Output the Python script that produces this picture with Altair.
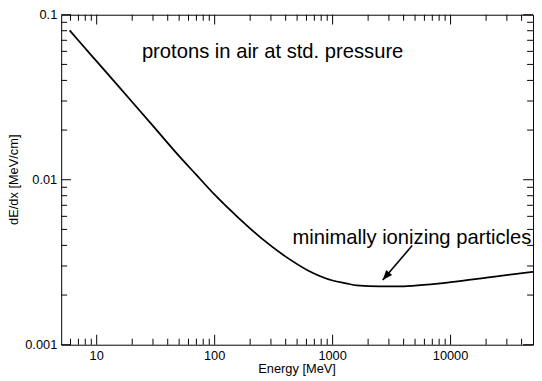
import altair as alt
import pandas as pd

# curve values
energy = [5.9, 7, 10, 20, 30, 50, 70, 100, 160, 250, 400, 630, 1000, 1300,
          1600, 2500, 4000, 6300, 10000, 22000, 50000]
dedx = [0.0804, 0.0698, 0.0521, 0.0296, 0.0212, 0.0139, 0.0107, 0.00811, 0.00585,
        0.00441, 0.00342, 0.00280, 0.00245, 0.002355, 0.002290, 0.002254, 0.002260,
        0.002310, 0.002393, 0.00257, 0.002767]

x_major = [10, 100, 1000, 10000]
x_minor = [6, 7, 8, 9, 20, 30, 40, 50, 60, 70, 80, 90,
           200, 300, 400, 500, 600, 700, 800, 900,
           2000, 3000, 4000, 5000, 6000, 7000, 8000, 9000,
           20000, 30000, 40000]
y_major = [0.001, 0.01, 0.1]
y_minor = [0.002, 0.003, 0.004, 0.005, 0.006, 0.007, 0.008, 0.009,
           0.02, 0.03, 0.04, 0.05, 0.06, 0.07, 0.08, 0.09]

x_title = ["Energy [MeV]"]
y_title = ["dE/dx [MeV/cm]"]

label_text = ["protons in air at std. pressure", "minimally ionizing particles"]
label_x = [310, 4700]
label_y = [0.0594, 0.00440]

arrow_x = [4730]
arrow_y = [0.00399]
arrow_x2 = [2660]
arrow_y2 = [0.00247]

W, H = 479, 335
FONT = "Liberation Sans"
MAJ, MIN = 10, 6

df = pd.DataFrame({"E": energy, "dEdx": dedx})
labels_df = pd.DataFrame({"t": label_text, "x": label_x, "y": label_y})
arrow_df = pd.DataFrame({"x": arrow_x, "y": arrow_y, "x2": arrow_x2, "y2": arrow_y2})
xmaj_df = pd.DataFrame({"xt": [float(v) for v in x_major]})
xmin_df = pd.DataFrame({"xt": [float(v) for v in x_minor]})
ymaj_df = pd.DataFrame({"yt": y_major})
ymin_df = pd.DataFrame({"yt": y_minor})
xtitle_df = pd.DataFrame({"t": x_title})
ytitle_df = pd.DataFrame({"t": y_title})

xs = alt.Scale(type="log", domain=[5, 50000], nice=False)
ys = alt.Scale(type="log", domain=[0.001, 0.1], nice=False)


def xticks(data, center, length):
    return alt.Chart(data).mark_tick(color="black", thickness=1, size=length,
                                     orient="vertical", opacity=1).encode(
        x=alt.X("xt:Q", scale=xs, axis=None),
        y=alt.value(center),
    )


def yticks(data, center, length):
    return alt.Chart(data).mark_tick(color="black", thickness=1, size=length,
                                     orient="horizontal", opacity=1).encode(
        y=alt.Y("yt:Q", scale=ys, axis=None),
        x=alt.value(center),
    )


main = alt.Chart(df).mark_line(color="black", strokeWidth=1.8, interpolate="monotone").encode(
    x=alt.X("E:Q", scale=xs, axis=None),
    y=alt.Y("dEdx:Q", scale=ys, axis=None),
)

tick_layers = [
    xticks(xmaj_df, H - MAJ / 2, MAJ), xticks(xmin_df, H - MIN / 2, MIN),
    xticks(xmaj_df, MAJ / 2, MAJ), xticks(xmin_df, MIN / 2, MIN),
    yticks(ymaj_df, MAJ / 2, MAJ), yticks(ymin_df, MIN / 2, MIN),
    yticks(ymaj_df, W - MAJ / 2, MAJ), yticks(ymin_df, W - MIN / 2, MIN),
]

# axis labels drawn as text through the scales
x_labels = alt.Chart(xmaj_df).mark_text(fontSize=13, font=FONT, color="black",
                                        align="center", baseline="middle").encode(
    x=alt.X("xt:Q", scale=xs, axis=None),
    y=alt.value(H + 12),
    text=alt.Text("xt:Q", format="~g"),
)
y_labels = alt.Chart(ymaj_df).mark_text(fontSize=13, font=FONT, color="black",
                                        align="right", baseline="middle").encode(
    y=alt.Y("yt:Q", scale=ys, axis=None),
    x=alt.value(-4),
    text=alt.Text("yt:Q", format="~g"),
)
x_title_mark = alt.Chart(xtitle_df).mark_text(fontSize=13, font=FONT, color="black",
                                              align="center", baseline="middle").encode(
    x=alt.value(W / 2),
    y=alt.value(H + 25),
    text="t:N",
)
y_title_mark = alt.Chart(ytitle_df).mark_text(fontSize=13, font=FONT, color="black",
                                              align="center", baseline="middle",
                                              angle=270).encode(
    x=alt.value(-48),
    y=alt.value(H / 2),
    text="t:N",
)

texts = alt.Chart(labels_df).mark_text(fontSize=20.5, font=FONT, color="black",
                                       align="center", baseline="middle").encode(
    x=alt.X("x:Q", scale=xs, axis=None),
    y=alt.Y("y:Q", scale=ys, axis=None),
    text="t:N",
)

arrow_line = alt.Chart(arrow_df).mark_rule(color="black", strokeWidth=1.6).encode(
    x=alt.X("x:Q", scale=xs, axis=None),
    y=alt.Y("y:Q", scale=ys, axis=None),
    x2="x2:Q",
    y2="y2:Q",
)

arrow_head = alt.Chart(arrow_df).mark_point(
    shape="M0,0 L-0.8,2 L0.8,2 Z", filled=True, color="black", opacity=1,
    size=100, angle=221).encode(
    x=alt.X("x2:Q", scale=xs, axis=None),
    y=alt.Y("y2:Q", scale=ys, axis=None),
)

chart = alt.layer(main, *tick_layers, x_labels, y_labels, x_title_mark, y_title_mark,
                  texts, arrow_line, arrow_head).properties(
    width=W, height=H,
    autosize=alt.AutoSizeParams(type="none"),
    padding={"left": 54, "top": 4, "right": 1, "bottom": 34},
).configure(font=FONT).configure_view(stroke="black", strokeWidth=1)

chart.save("out.html", embed_options={"renderer": "svg", "actions": False})
